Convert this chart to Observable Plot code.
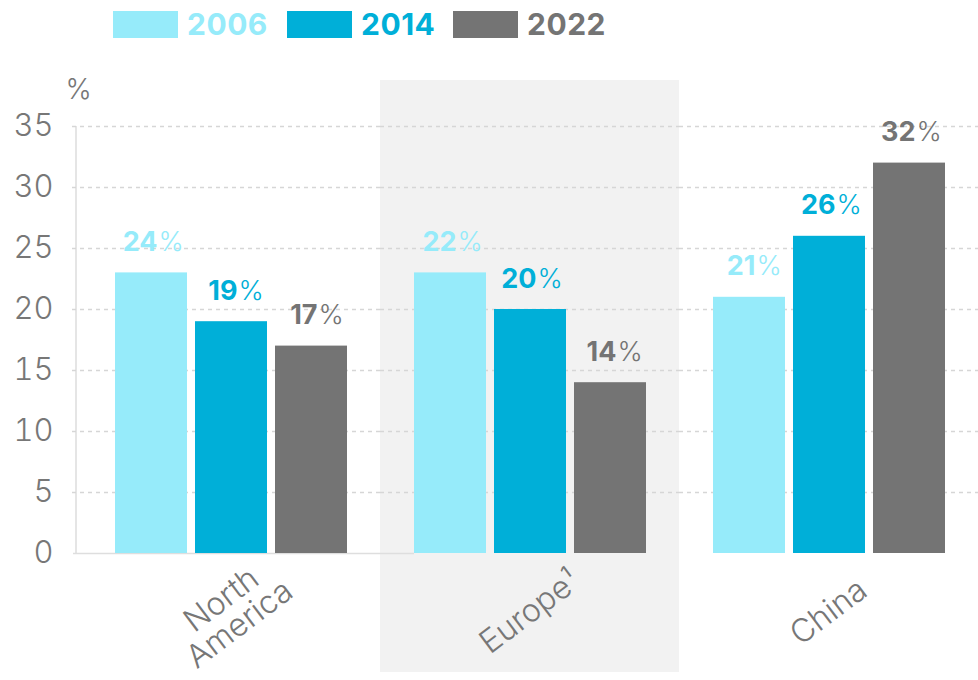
<!DOCTYPE html>
<html><head><meta charset="utf-8">
<script src="https://cdn.jsdelivr.net/npm/d3@7"></script>
<script src="https://cdn.jsdelivr.net/npm/@observablehq/plot@0.6"></script>
<style>
body{margin:0;background:#fff;font-family:Inter,sans-serif;}
#legend{position:relative;height:50px;width:978px;}
.sw{position:absolute;top:11px;width:65px;height:27px;}
.lt{position:absolute;top:6px;font-size:30px;font-weight:700;line-height:36px;letter-spacing:0.5px;}
#chart svg{overflow:visible;display:block;}
</style></head><body>
<div id="legend"></div>
<div id="chart"></div>
<script>
const regions = ["North America", "Europe", "China"];
const regionLabels = ["North\nAmerica", "Europe\u00b9", "China"];
const years = ["2006", "2014", "2022"];
const colors = ["#96ebfa", "#00afd8", "#747474"];
const values2006 = [23, 23, 21];
const values2014 = [19, 20, 26];
const values2022 = [17, 14, 32];
const labels2006 = ["24", "22", "21"];
const labels2014 = ["19", "20", "26"];
const labels2022 = ["17", "14", "32"];
const yTicks = [0, 5, 10, 15, 20, 25, 30, 35];
const highlightRegion = "Europe";

const seriesValues = [values2006, values2014, values2022];
const seriesLabels = [labels2006, labels2014, labels2022];
const data = [];
regions.forEach((r, i) => years.forEach((y, j) => data.push({region: r, year: y, value: seriesValues[j][i], label: seriesLabels[j][i]})));
const regionRows = regions.map((r, i) => ({region: r, label: regionLabels[i]}));
const gridRows = [];
regions.forEach(r => yTicks.forEach(t => gridRows.push({region: r, y: t})));

// legend
const legend = document.getElementById("legend");
const legendPos = [[113, 187], [287, 361], [453, 527]];
years.forEach((y, j) => {
  const sw = document.createElement("div");
  sw.className = "sw"; sw.style.left = legendPos[j][0] + "px"; sw.style.background = colors[j];
  const t = document.createElement("div");
  t.className = "lt"; t.style.left = legendPos[j][1] + "px"; t.style.color = colors[j]; t.textContent = y;
  legend.appendChild(sw); legend.appendChild(t);
});

const first = d => d.region === regions[0];
const notFirst = d => d.region !== regions[0];
const gridOpts = {fx: "region", y: "y", stroke: "#d6d6d6", strokeWidth: 1.5, strokeDasharray: "4,4"};

const plot = Plot.plot({
  width: 978, height: 630,
  marginLeft: 81, marginRight: 0, marginTop: 76, marginBottom: 127,
  style: {fontFamily: "Inter, sans-serif", background: "transparent", overflow: "visible"},
  fx: {domain: regions, paddingInner: 0, paddingOuter: 0, axis: null, label: null},
  x: {domain: years, paddingInner: 0.1, paddingOuter: 0.41875, axis: null},
  y: {domain: [0, 35], axis: null},
  color: {domain: years, range: colors},
  marks: [
    Plot.rect(regionRows.filter(d => d.region === highlightRegion), {fx: "region", fill: "#f2f2f2", insetTop: -46, insetBottom: -119}),
    Plot.ruleY(gridRows.filter(d => first(d) && d.y > 0), {...gridOpts, insetLeft: -9}),
    Plot.ruleY(gridRows.filter(d => notFirst(d) && d.y > 0), gridOpts),
    Plot.ruleY(gridRows.filter(d => first(d) && d.y === 0), {fx: "region", y: "y", stroke: "#dedede", strokeWidth: 1.5, insetLeft: -8, insetRight: -34}),
    Plot.axisY(yTicks, {tickSize: 0, tickPadding: 28, fontSize: 31, fontWeight: 300, fill: "#777", label: null}),
    Plot.text([{region: regions[0], t: "%"}], {fx: "region", text: "t", frameAnchor: "top-left", textAnchor: "start", lineAnchor: "top", dx: -16, dy: -47, fontSize: 28, fontWeight: 300, fill: "#777"}),
    Plot.barY(data, {fx: "region", x: "year", y: "value", fill: "year"}),
    Plot.text(data, {fx: "region", x: "year", y: "value", text: "label", fill: "year", textAnchor: "end", lineAnchor: "bottom", dx: 6, dy: -22, fontSize: 27, fontWeight: 700}),
    Plot.text(data, {fx: "region", x: "year", y: "value", text: () => "%", fill: "year", textAnchor: "start", lineAnchor: "bottom", dx: 7, dy: -22, fontSize: 27, fontWeight: 300}),
    Plot.text(regionRows, {fx: "region", text: "label", frameAnchor: "bottom", dy: 59, rotate: -37, fontSize: 32, fontWeight: 300, fill: "#777", lineAnchor: "middle", lineHeight: 0.95})
  ]
});
document.getElementById("chart").appendChild(plot);

// y axis line along the left of the first facet
const ys = plot.scale("y");
const fxs = plot.scale("fx");
d3.select(plot).insert("line", ":first-child")
  .attr("x1", fxs.range[0] - 5).attr("x2", fxs.range[0] - 5)
  .attr("y1", ys.apply(35)).attr("y2", ys.apply(0))
  .attr("stroke", "#dcdcdc").attr("stroke-width", 1.5);
</script>
</body></html>
